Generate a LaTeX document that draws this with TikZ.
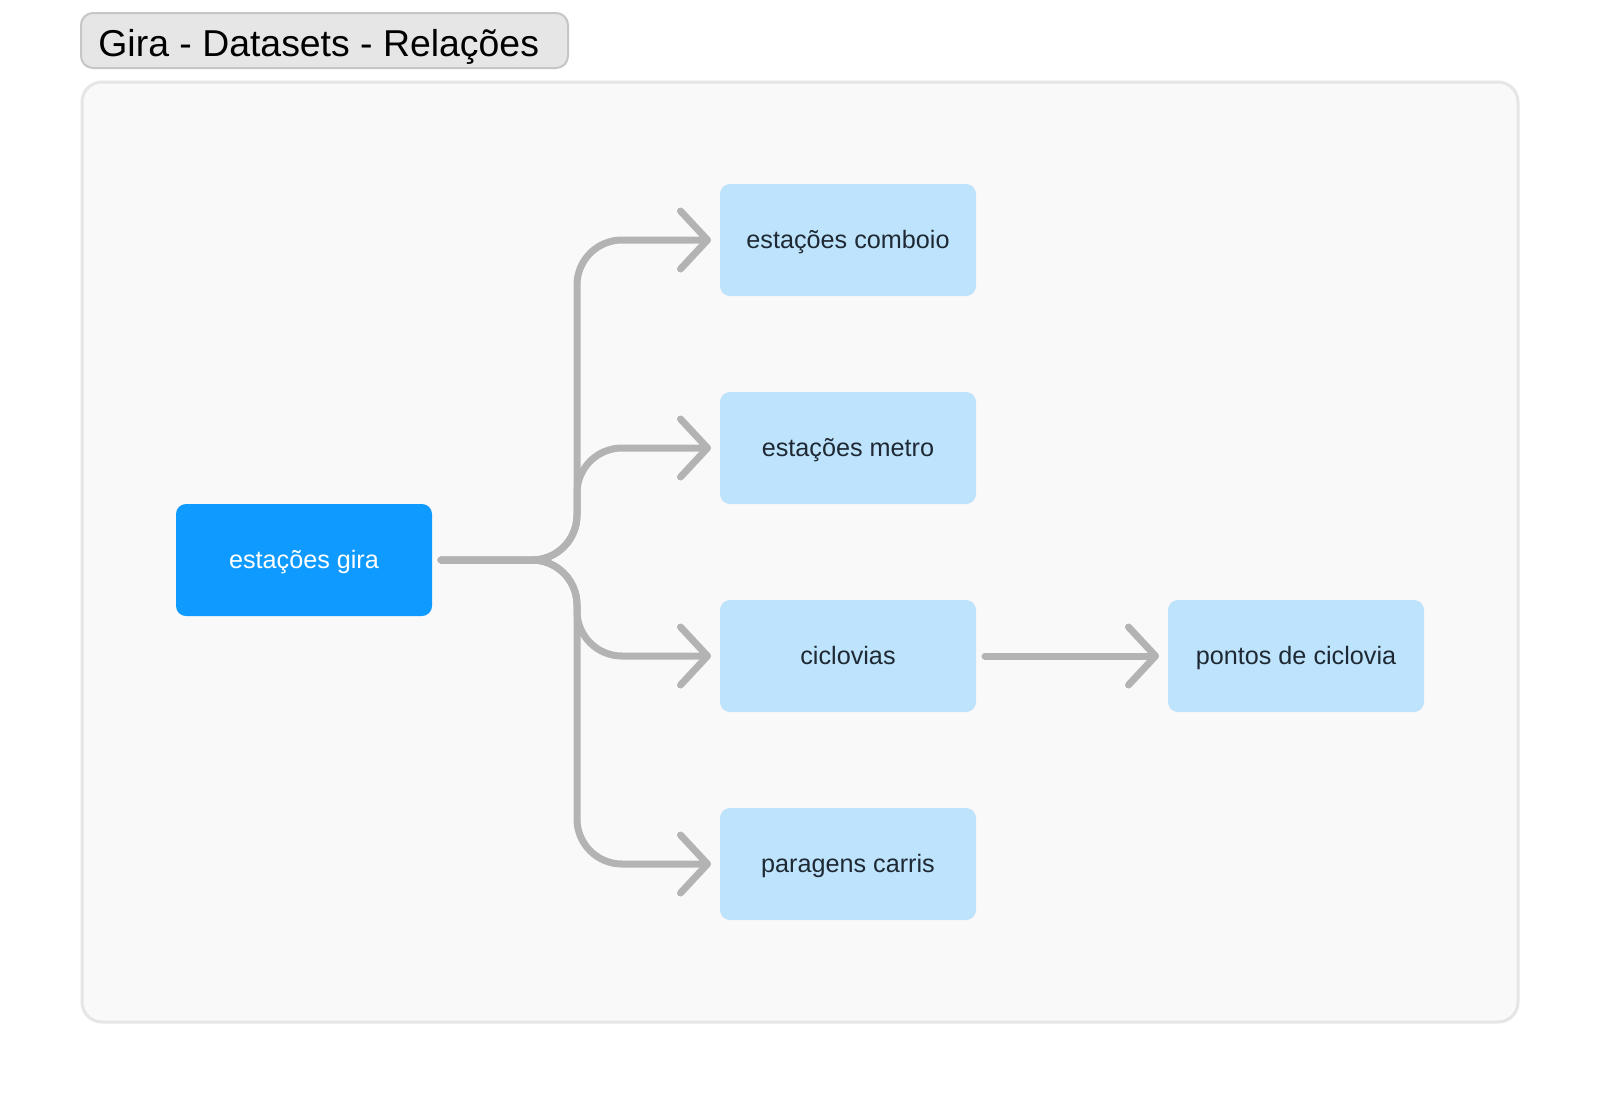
\documentclass[tikz,border=0pt]{standalone}
\usepackage{fontspec}
\setmainfont{Liberation Sans}
\usetikzlibrary{arrows.meta}
\definecolor{giraBlue}{HTML}{0F9AFF}
\definecolor{lightBlue}{HTML}{BEE3FD}
\definecolor{linkGray}{HTML}{B3B3B3}
\definecolor{panelFill}{HTML}{F9F9F9}
\definecolor{panelLine}{HTML}{E5E5E5}
\definecolor{titleFill}{HTML}{E6E6E6}
\definecolor{titleLine}{HTML}{C6C6C6}
\definecolor{textDark}{HTML}{1F2933}
\tikzset{
  box/.style={rectangle, rounded corners=5pt, minimum width=128pt, minimum height=56pt,
    inner sep=0pt, outer sep=4.5pt, text height=9pt, text depth=1pt,
    font=\fontsize{12.6}{15}\selectfont},
  dsbox/.style={box, fill=lightBlue, text=textDark},
  mainbox/.style={box, fill=giraBlue, text=white},
  link/.style={draw=linkGray, line width=3.5pt, line cap=round, line join=round,
    -{Straight Barb[round, length=13.5pt, width=29pt]}},
  titlebox/.style={rectangle, rounded corners=6pt, fill=titleFill, draw=titleLine,
    line width=1pt, minimum width=243.5pt, minimum height=27.5pt, inner sep=0pt},
  titletext/.style={inner sep=0pt, font=\fontsize{18.7}{22}\selectfont, text=black}
}
\begin{document}
\begin{tikzpicture}[x=0.5pt,y=-0.5pt]
\useasboundingbox (0,0) rectangle (1600,1104);
\fill[white] (0,0) rectangle (1600,1104);
\draw[fill=panelFill, draw=panelLine, line width=1.5pt, rounded corners=10pt] (82,82) rectangle (1518,1022);
\node[titlebox, anchor=west] (title) at (80,40.5) {};
\node[titletext, anchor=base west] (titlelabel) at (98,56) {Gira - Datasets - Relações};

\node[mainbox] (gira) at (304,560) {estações gira};
\node[dsbox] (comboio) at (848,240) {estações comboio};
\node[dsbox] (metro) at (848,448) {estações metro};
\node[dsbox] (ciclovias) at (848,656) {ciclovias};
\node[dsbox] (carris) at (848,864) {paragens carris};
\node[dsbox] (pontos) at (1296,656) {pontos de ciclovia};

\coordinate (trunk) at (577,560);

\draw[link, rounded corners=22.5pt] (gira.east) -- (trunk) -- (trunk |- comboio) -- (comboio.west);
\draw[link, rounded corners=22.5pt] (gira.east) -- (trunk) -- (trunk |- metro) -- (metro.west);
\draw[link, rounded corners=22.5pt] (gira.east) -- (trunk) -- (trunk |- ciclovias) -- (ciclovias.west);
\draw[link, rounded corners=22.5pt] (gira.east) -- (trunk) -- (trunk |- carris) -- (carris.west);
\draw[link] (ciclovias.east) -- (pontos.west);
\end{tikzpicture}
\end{document}
